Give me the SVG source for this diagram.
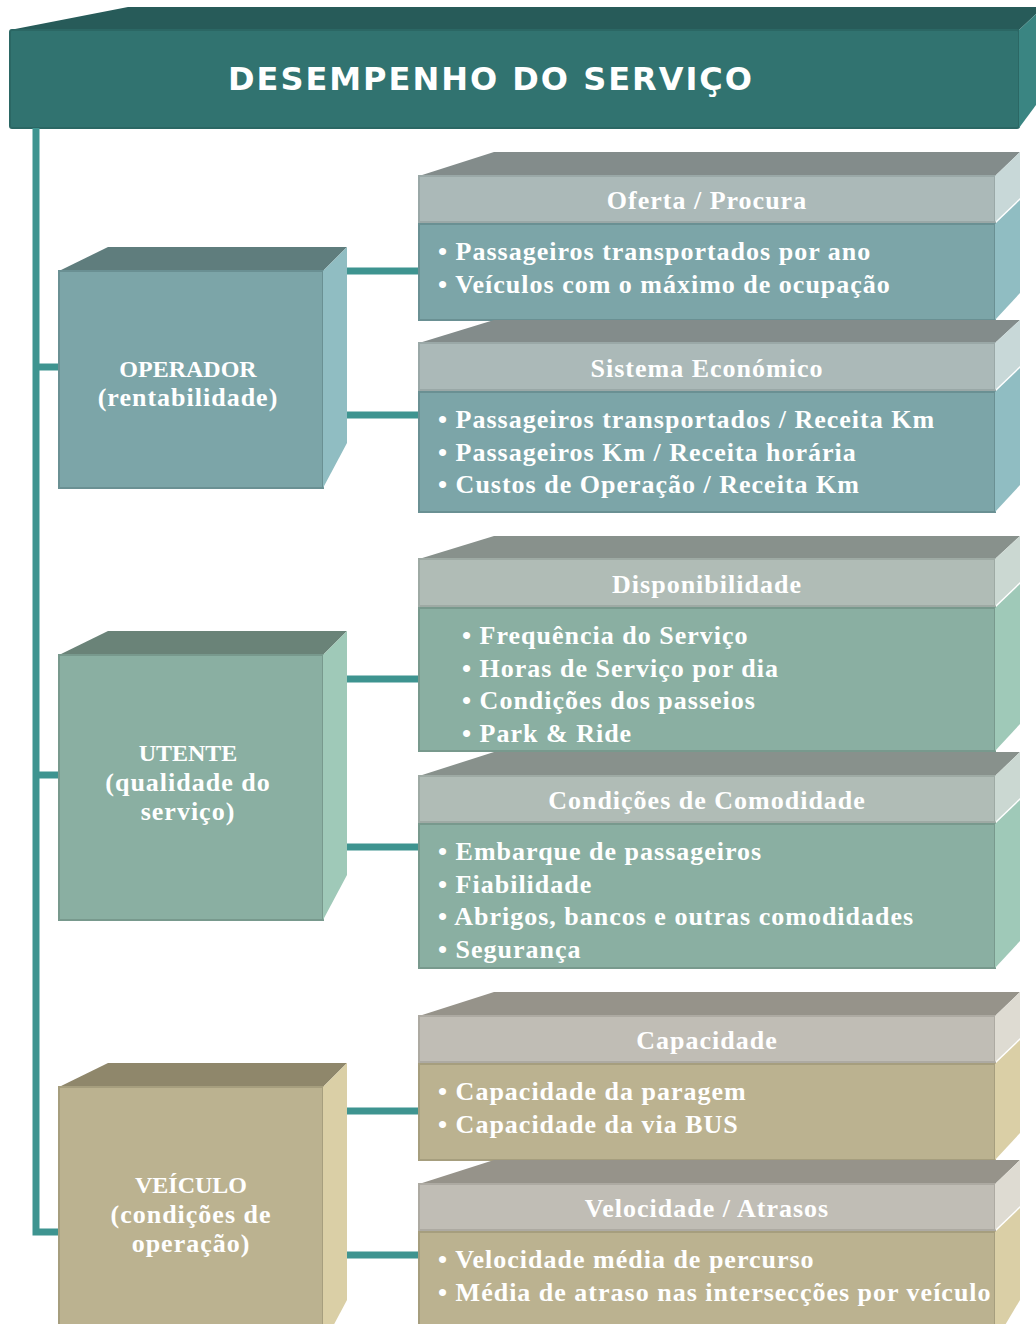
<svg xmlns="http://www.w3.org/2000/svg" width="1036" height="1324" viewBox="0 0 1036 1324">
<style>
.t{font-family:"Liberation Serif","DejaVu Serif",serif;font-weight:bold;fill:#fff;font-size:26px;letter-spacing:1px}
.cap{font-size:24px;letter-spacing:0}
.c{text-anchor:middle}
.h{font-family:"DejaVu Sans","Liberation Sans",sans-serif;font-weight:bold;fill:#fff;font-size:32px}
.ln{stroke:#3e9490;stroke-width:7;fill:none}
.edge{stroke-width:2}
.op .f{fill:#7ca5a8;stroke:#6a9093}.op .tp{fill:#5f7d7d}.op .r{fill:#90bdc2}
.ut .f{fill:#8aafa2;stroke:#78998d}.ut .tp{fill:#6a8378}.ut .r{fill:#9fc9b8}
.ve .f{fill:#bbb290;stroke:#a69e7e}.ve .tp{fill:#8f876b}.ve .r{fill:#dacfa6}
.op .hb{fill:#abb9b8;stroke:#9aa8a7}.op .ht{fill:#838c8b}.op .hr{fill:#c8d8d8}
.ut .hb{fill:#b0bcb6;stroke:#9eaaa4}.ut .ht{fill:#88918c}.ut .hr{fill:#cbd8d2}
.ve .hb{fill:#c0bdb5;stroke:#adaaa2}.ve .ht{fill:#96938a}.ve .hr{fill:#dedbd2}
</style>

<g id="header">
<polygon points="10,30 128,7 1036,7 1036,14 1019,30" fill="#275b59"/>
<rect x="10" y="30" width="1009" height="98" rx="2" fill="#317370" stroke="#2b6764" stroke-width="2"/>
<polygon points="1019,30 1036,14 1036,105 1019,128" fill="#3a8582"/>
<text class="h" x="490" y="90" text-anchor="middle" textLength="524" lengthAdjust="spacing">DESEMPENHO DO SERVIÇO</text>
</g>

<g id="connectors">
<polyline class="ln" points="36,128 36,1232 60,1232"/>
<line class="ln" x1="36" y1="367" x2="60" y2="367"/>
<line class="ln" x1="36" y1="775" x2="60" y2="775"/>
<line class="ln" x1="347" y1="271" x2="420" y2="271"/>
<line class="ln" x1="347" y1="415" x2="420" y2="415"/>
<line class="ln" x1="347" y1="679" x2="420" y2="679"/>
<line class="ln" x1="347" y1="847" x2="420" y2="847"/>
<line class="ln" x1="347" y1="1111" x2="420" y2="1111"/>
<line class="ln" x1="347" y1="1255" x2="420" y2="1255"/>
</g>

<g id="operador" class="op">
<polygon class="tp" points="59,271 108,247 347,247 323,271"/>
<rect class="f edge" x="59" y="271" width="264" height="217"/>
<polygon class="r" points="323,271 347,247 347,443 323,488"/>
<text class="t c cap" x="188" y="377">OPERADOR</text>
<text class="t c" x="188" y="406">(rentabilidade)</text>
</g>

<g id="utente" class="ut">
<polygon class="tp" points="59,655 108,631 347,631 323,655"/>
<rect class="f edge" x="59" y="655" width="264" height="265"/>
<polygon class="r" points="323,655 347,631 347,875 323,920"/>
<text class="t c cap" x="188" y="761">UTENTE</text>
<text class="t c" x="188" y="791">(qualidade do</text>
<text class="t c" x="188" y="820">serviço)</text>
</g>

<g id="veiculo" class="ve">
<polygon class="tp" points="59,1087 108,1063 347,1063 323,1087"/>
<rect class="f edge" x="59" y="1087" width="264" height="260"/>
<polygon class="r" points="323,1087 347,1063 347,1300 323,1345"/>
<text class="t c cap" x="191" y="1193">VEÍCULO</text>
<text class="t c" x="191" y="1223">(condições de</text>
<text class="t c" x="191" y="1252">operação)</text>
</g>

<g id="oferta" class="op">
<polygon class="ht" points="419,176 494,152 1020,152 995,176"/>
<rect class="hb edge" x="419" y="176" width="576" height="46"/>
<polygon class="hr" points="995,176 1020,152 1020,198 995,222"/>
<rect class="f edge" x="419" y="224" width="576" height="96"/>
<polygon class="r" points="995,224 1020,200 1020,293 995,320"/>
<text class="t c" x="707" y="209">Oferta / Procura</text>
<text class="t" x="438" y="260">• Passageiros transportados por ano</text>
<text class="t" x="438" y="293">• Veículos com o máximo de ocupação</text>
</g>

<g id="sistema" class="op">
<polygon class="ht" points="419,343 494,320 1020,320 995,343"/>
<rect class="hb edge" x="419" y="343" width="576" height="47"/>
<polygon class="hr" points="995,343 1020,320 1020,366 995,390"/>
<rect class="f edge" x="419" y="392" width="576" height="120"/>
<polygon class="r" points="995,392 1020,368 1020,485 995,512"/>
<text class="t c" x="707" y="377">Sistema Económico</text>
<text class="t" x="438" y="428">• Passageiros transportados / Receita Km</text>
<text class="t" x="438" y="461">• Passageiros Km / Receita horária</text>
<text class="t" x="438" y="493">• Custos de Operação / Receita Km</text>
</g>

<g id="disponibilidade" class="ut">
<polygon class="ht" points="419,559 494,536 1020,536 995,559"/>
<rect class="hb edge" x="419" y="559" width="576" height="47"/>
<polygon class="hr" points="995,559 1020,536 1020,582 995,606"/>
<rect class="f edge" x="419" y="608" width="576" height="143"/>
<polygon class="r" points="995,608 1020,584 1020,724 995,751"/>
<text class="t c" x="707" y="593">Disponibilidade</text>
<text class="t" x="462" y="644">• Frequência do Serviço</text>
<text class="t" x="462" y="677">• Horas de Serviço por dia</text>
<text class="t" x="462" y="709">• Condições dos passeios</text>
<text class="t" x="462" y="742">• Park &amp; Ride</text>
</g>

<g id="comodidade" class="ut">
<polygon class="ht" points="419,776 494,752 1020,752 995,776"/>
<rect class="hb edge" x="419" y="776" width="576" height="46"/>
<polygon class="hr" points="995,776 1020,752 1020,798 995,822"/>
<rect class="f edge" x="419" y="824" width="576" height="144"/>
<polygon class="r" points="995,824 1020,800 1020,941 995,968"/>
<text class="t c" x="707" y="809">Condições de Comodidade</text>
<text class="t" x="438" y="860">• Embarque de passageiros</text>
<text class="t" x="438" y="893">• Fiabilidade</text>
<text class="t" x="438" y="925">• Abrigos, bancos e outras comodidades</text>
<text class="t" x="438" y="958">• Segurança</text>
</g>

<g id="capacidade" class="ve">
<polygon class="ht" points="419,1016 494,992 1020,992 995,1016"/>
<rect class="hb edge" x="419" y="1016" width="576" height="46"/>
<polygon class="hr" points="995,1016 1020,992 1020,1038 995,1062"/>
<rect class="f edge" x="419" y="1064" width="576" height="96"/>
<polygon class="r" points="995,1064 1020,1040 1020,1133 995,1160"/>
<text class="t c" x="707" y="1049">Capacidade</text>
<text class="t" x="438" y="1100">• Capacidade da paragem</text>
<text class="t" x="438" y="1133">• Capacidade da via BUS</text>
</g>

<g id="velocidade" class="ve">
<polygon class="ht" points="419,1184 494,1160 1020,1160 995,1184"/>
<rect class="hb edge" x="419" y="1184" width="576" height="46"/>
<polygon class="hr" points="995,1184 1020,1160 1020,1206 995,1230"/>
<rect class="f edge" x="419" y="1232" width="576" height="110"/>
<polygon class="r" points="995,1232 1020,1208 1020,1300 995,1342"/>
<text class="t c" x="707" y="1217">Velocidade / Atrasos</text>
<text class="t" x="438" y="1268">• Velocidade média de percurso</text>
<text class="t" x="438" y="1301">• Média de atraso nas intersecções por veículo</text>
</g>
</svg>
